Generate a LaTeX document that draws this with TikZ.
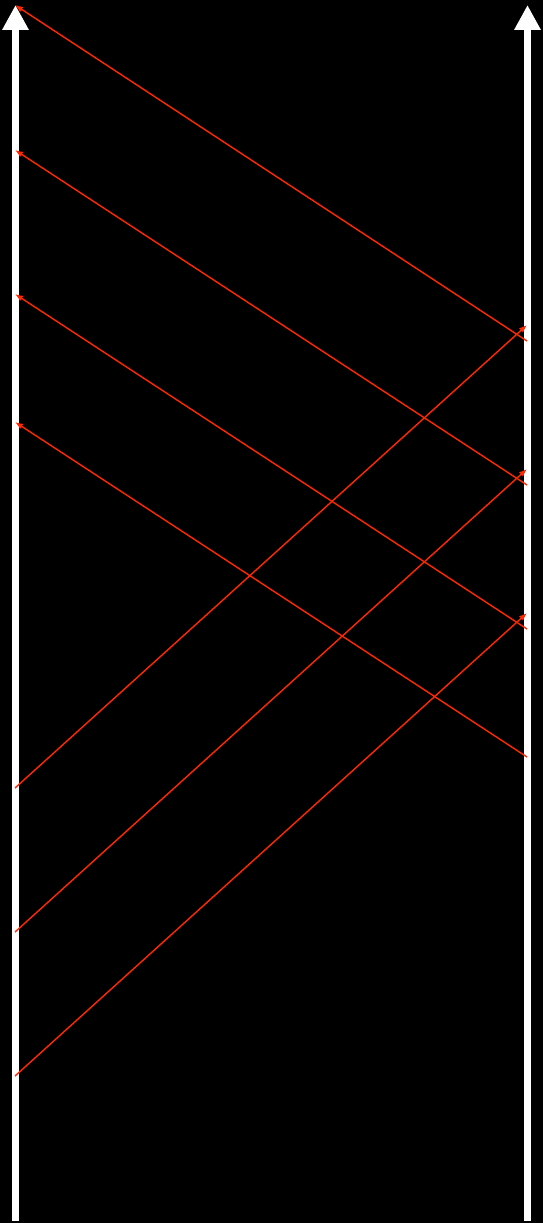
\documentclass[tikz,border=0pt]{standalone}
\usetikzlibrary{arrows.meta}
\definecolor{sig}{RGB}{255,40,0}
\begin{document}
\begin{tikzpicture}[x=1pt,y=-1pt,
  axis/.style={white,line width=7pt,-{Triangle[width=25pt,length=25pt]}},
  msg/.style={sig,line width=1.4pt,-{Latex[width=6pt,length=8pt]}}]
\fill[black] (0,0) rectangle (543,1223);
\useasboundingbox (0,0) rectangle (543,1223);
% axes
\coordinate (Lb) at (15.5,1221);
\coordinate (Lt) at (15.5,5);
\coordinate (Rb) at (527.5,1221);
\coordinate (Rt) at (527.5,5);
\draw[axis] (Lb) -- (Lt);
\draw[axis] (Rb) -- (Rt);
% right-to-left messages
\coordinate (r1) at (527,341); \coordinate (l1) at (15,5);
\coordinate (r2) at (527,485); \coordinate (l2) at (15,150);
\coordinate (r3) at (527,629); \coordinate (l3) at (15,294);
\coordinate (r4) at (527,757); \coordinate (l4) at (15,422);
\draw[msg] (r1) -- (l1);
\draw[msg] (r2) -- (l2);
\draw[msg] (r3) -- (l3);
\draw[msg] (r4) -- (l4);
% left-to-right messages
\coordinate (a1) at (15,788);  \coordinate (b1) at (527,325);
\coordinate (a2) at (15,932);  \coordinate (b2) at (527,469);
\coordinate (a3) at (15,1076); \coordinate (b3) at (527,613);
\draw[msg] (a1) -- (b1);
\draw[msg] (a2) -- (b2);
\draw[msg] (a3) -- (b3);
\end{tikzpicture}
\end{document}
